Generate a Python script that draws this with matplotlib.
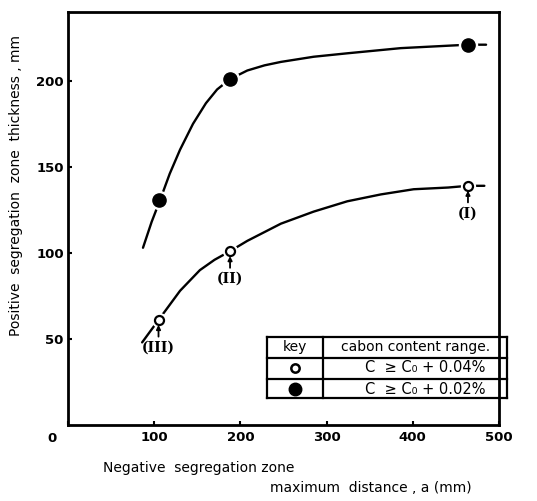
import matplotlib
matplotlib.use('Agg')
import matplotlib.pyplot as plt
import matplotlib.transforms as mtransforms
from matplotlib.lines import Line2D

# measured points
point_x = [105, 188, 464]
filled_y = [131, 201, 221]
open_y = [61, 101, 139]
open_labels = ['(III)', '(II)', '(I)']

# hand-drawn curves
filled_curve_x = [87, 97, 107, 118, 130, 145, 160, 173, 188, 208, 228, 247, 285, 324, 386, 464, 485]
filled_curve_y = [103, 118, 131, 146, 160, 175, 187, 195, 201, 206, 209, 211, 214, 216, 219, 221, 221]
open_curve_x = [86, 105, 130, 153, 170, 188, 208, 247, 285, 324, 363, 401, 441, 464, 483]
open_curve_y = [48, 61, 78, 90, 96, 101, 107, 117, 124, 130, 134, 137, 138, 139, 139]

x_ticks = [0, 100, 200, 300, 400, 500]
y_ticks = [50, 100, 150, 200]

W, H = 537, 501
fig = plt.figure(figsize=(W / 100, H / 100), dpi=100)
ax = fig.add_axes([68 / W, 1 - 425 / H, 431 / W, 413 / H])

ax.plot(filled_curve_x, filled_curve_y, color='black', lw=1.7, solid_capstyle='round', zorder=2)
ax.plot(open_curve_x, open_curve_y, color='black', lw=1.7, solid_capstyle='round', zorder=2)

# white halos to give the gaps round the markers
ax.plot(point_x, filled_y, 'o', color='white', ms=13, zorder=3)
ax.plot(point_x, open_y, 'o', color='white', ms=10, zorder=3)
ax.plot(point_x, filled_y, 'o', color='black', ms=9.5, zorder=4)
ax.plot(point_x, open_y, 'o', mfc='white', mec='black', mew=1.6, ms=6.5, zorder=4)

for x, y, lab in zip(point_x, open_y, open_labels):
    ax.annotate(lab, xy=(x, y), xytext=(0, -20), textcoords='offset points',
                ha='center', va='center', fontsize=10, fontweight='bold',
                family='DejaVu Serif',
                arrowprops=dict(arrowstyle='-|>', color='black', lw=1.3,
                                mutation_scale=6, shrinkA=1, shrinkB=3.5))

ax.set_xlim(0, 500)
ax.set_ylim(0, 240)
ax.set_xticks(x_ticks)
ax.set_yticks(y_ticks)
# the "0" sits left of the corner, drawn separately below
ax.set_xticklabels([''] + [str(t) for t in x_ticks[1:]])
ax.set_yticklabels([str(t) for t in y_ticks])
ax.tick_params(direction='in', length=3, width=1.5, labelsize=9.5, pad=4)
ax.tick_params(axis='y', pad=3)
for lab in ax.get_xticklabels() + ax.get_yticklabels():
    lab.set_fontweight('bold')
zero_tr = mtransforms.blended_transform_factory(ax.transData, ax.transAxes)
ax.text(x_ticks[0], 0, '0', transform=zero_tr + mtransforms.ScaledTranslation(-16 / 100, -13 / 100, fig.dpi_scale_trans),
        ha='center', va='center', fontsize=9.5, fontweight='bold')
for s in ax.spines.values():
    s.set_linewidth(2)

# key table (axes fraction coords)
def fx(px):
    return (px - 68) / 431

def fy(py):
    return (425 - py) / 413

tl, tr, tt, tb = 267, 507, 337, 398
rows = [358, 379]
col = 323
for xs, ys in [([tl, tr], [tt, tt]), ([tl, tr], [tb, tb]), ([tl, tl], [tt, tb]),
               ([tr, tr], [tt, tb]), ([col, col], [tt, tb])] + \
              [([tl, tr], [r, r]) for r in rows]:
    ax.add_line(Line2D([fx(v) for v in xs], [fy(v) for v in ys], color='black',
                       lw=1.6, transform=ax.transAxes, clip_on=False, zorder=5))

ax.text(fx(295), fy(347), 'key', transform=ax.transAxes, ha='center', va='center', fontsize=10)
ax.text(fx(416), fy(347), 'cabon content range.', transform=ax.transAxes, ha='center',
        va='center', fontsize=10)
ax.plot([fx(295)], [fy(368)], 'o', mfc='white', mec='black', mew=1.8, ms=6,
        transform=ax.transAxes, clip_on=False, zorder=6)
ax.plot([fx(295)], [fy(389)], 'o', color='black', ms=9,
        transform=ax.transAxes, clip_on=False, zorder=6)
ax.text(fx(425), fy(368), 'C  ≥ C₀ + 0.04%', transform=ax.transAxes, ha='center',
        va='center', fontsize=10.5)
ax.text(fx(425), fy(389), 'C  ≥ C₀ + 0.02%', transform=ax.transAxes, ha='center',
        va='center', fontsize=10.5)

fig.text(16 / W, 1 - 185 / H, 'Positive  segregation  zone  thickness , mm', rotation=90,
         ha='center', va='center', fontsize=10)
fig.text(103 / W, 1 - 468 / H, 'Negative  segregation zone', ha='left', va='center', fontsize=10)
fig.text(270 / W, 1 - 488 / H, 'maximum  distance , a (mm)', ha='left', va='center', fontsize=10)

fig.savefig('out.png', dpi=100)
